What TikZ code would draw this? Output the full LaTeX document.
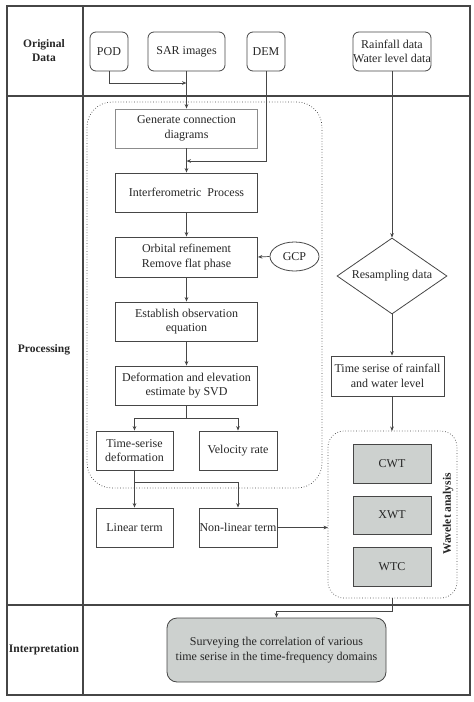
\documentclass[tikz,border=0pt]{standalone}
\usepackage{fontspec}
\setmainfont{Liberation Serif}
\usetikzlibrary{shapes.geometric,arrows.meta}
\definecolor{ln}{RGB}{70,70,70}
\definecolor{gfill}{RGB}{205,209,207}
\tikzset{
  every node/.style={font=\fontsize{12}{14.5}\selectfont, text=black!85},
  sq/.style={draw=ln, line width=0.8pt, rectangle, align=center, inner sep=0pt},
  rbox/.style={sq, rounded corners=6pt},
  gbox/.style={sq, fill=gfill},
  arr/.style={draw=ln, line width=0.7pt, -{Stealth[length=4.5pt,width=3.6pt]}},
  ln/.style={draw=ln, line width=0.7pt},
  frame/.style={draw=ln, line width=1.1pt},
  region/.style={draw=ln, line width=0.7pt, dotted},
  lab/.style={font=\bfseries\fontsize{11.5}{14}\selectfont, align=center}
}
\begin{document}
\begin{tikzpicture}[x=1pt,y=1pt]
\useasboundingbox (0,0) rectangle (474,-702);
% frame
\draw[frame] (7,-6) rectangle (470,-695);
\draw[frame] (83,-6) -- (83,-695);
\draw[frame] (7,-96) -- (470,-96);
\draw[frame] (7,-605) -- (470,-605);
\node[lab] (l1) at (44,-51) {Original\\Data};
\node[lab] (l2) at (44,-350) {Processing};
\node[lab] (l3) at (44,-650) {Interpretation};
% regions
\draw[region, rounded corners=25pt] (87,-102) rectangle (322,-488);
\draw[region, rounded corners=16pt] (328,-431) rectangle (457,-598);
% original data
\node[rbox, minimum width=38pt, minimum height=39pt] (pod) at (109,-51.5) {POD};
\node[rbox, minimum width=77pt, minimum height=39pt] (sar) at (186.5,-51.5) {SAR images};
\node[rbox, minimum width=38pt, minimum height=39pt] (dem) at (266,-51.5) {DEM};
\node[rbox, minimum width=78pt, minimum height=39pt] (rain) at (392,-51.5) {Rainfall data\\Water level data};
% left processing chain
\node[sq, draw=black!45, minimum width=142pt, minimum height=39pt] (gen) at (186.5,-128.5) {Generate connection\\diagrams};
\node[sq, minimum width=142pt, minimum height=39pt] (ifp) at (186.5,-192.5) {Interferometric\ \ Process};
\node[sq, minimum width=142pt, minimum height=40pt] (orb) at (186.5,-257) {Orbital refinement\\Remove flat phase};
\node[ellipse, draw=ln, line width=0.8pt, minimum width=49pt, minimum height=29pt, inner sep=0pt] (gcp) at (294.5,-256.5) {GCP};
\node[sq, minimum width=142pt, minimum height=39pt] (est) at (186.5,-321.5) {Establish observation\\equation};
\node[sq, minimum width=142pt, minimum height=39pt] (def) at (186.5,-385.5) {Deformation and elevation\\estimate by SVD};
\node[sq, minimum width=77pt, minimum height=39pt] (tsd) at (134.5,-450.5) {Time-serise\\deformation};
\node[sq, minimum width=78pt, minimum height=39pt] (vel) at (238,-450.5) {Velocity rate};
\node[sq, minimum width=77pt, minimum height=39pt] (lin) at (134.5,-527.5) {Linear term};
\node[sq, minimum width=78pt, minimum height=39pt] (nlin) at (238,-527.5) {Non-linear term};
% right column
\node[diamond, draw=ln, line width=0.8pt, minimum width=110pt, minimum height=76pt, inner sep=0pt, aspect=1.45] (res) at (392,-276) {Resampling data};
\node[sq, minimum width=113pt, minimum height=40pt] (tsr) at (387.5,-376) {Time serise of rainfall\\and water level};
\node[gbox, minimum width=78pt, minimum height=39pt] (cwt) at (392,-463.5) {CWT};
\node[gbox, minimum width=78pt, minimum height=38pt] (xwt) at (392,-515) {XWT};
\node[gbox, minimum width=78pt, minimum height=39pt] (wtc) at (392,-566.5) {WTC};
\node[font=\bfseries\fontsize{11.5}{14}\selectfont, rotate=90] (wav) at (448,-514) {Wavelet analysis};
\node[rbox, rounded corners=10pt, fill=gfill, minimum width=219pt, minimum height=64pt] (sur) at (276.5,-650) {Surveying the correlation of various\\time serise in the time-frequency domains};
% helper coordinates
\coordinate (wtop) at (392,-431);
\coordinate (wbot) at (392,-598);
\coordinate (wleft) at (328,-527.5);
% connectors
\draw[arr] (pod.south) |- (sar.south |- 0,-83);
\draw[arr] (sar.south) -- (gen.north);
\draw[arr] (dem.south) |- (gen.south |- 0,-161);
\draw[arr] (gen.south) -- (ifp.north);
\draw[arr] (ifp.south) -- (orb.north);
\draw[arr] (gcp.west) -- (orb.east);
\draw[arr] (orb.south) -- (est.north);
\draw[arr] (est.south) -- (def.north);
\draw[ln] (def.south) -- (186.5,-418);
\draw[arr] (186.5,-418) -| (tsd.north);
\draw[arr] (186.5,-418) -| (vel.north);
\draw[arr] (tsd.south) |- (238,-482) -- (nlin.north);
\draw[arr] (tsd.south) -- (lin.north);
\draw[arr] (nlin.east) -- (wleft);
\draw[arr] (rain.south) -- (res.north);
\draw[arr] (res.south) -- (tsr.north -| res.south);
\draw[arr] (tsr.south -| wtop) -- (wtop);
\draw[arr] (wbot) |- (sur.north |- 0,-611) -- (sur.north);
\end{tikzpicture}
\end{document}
